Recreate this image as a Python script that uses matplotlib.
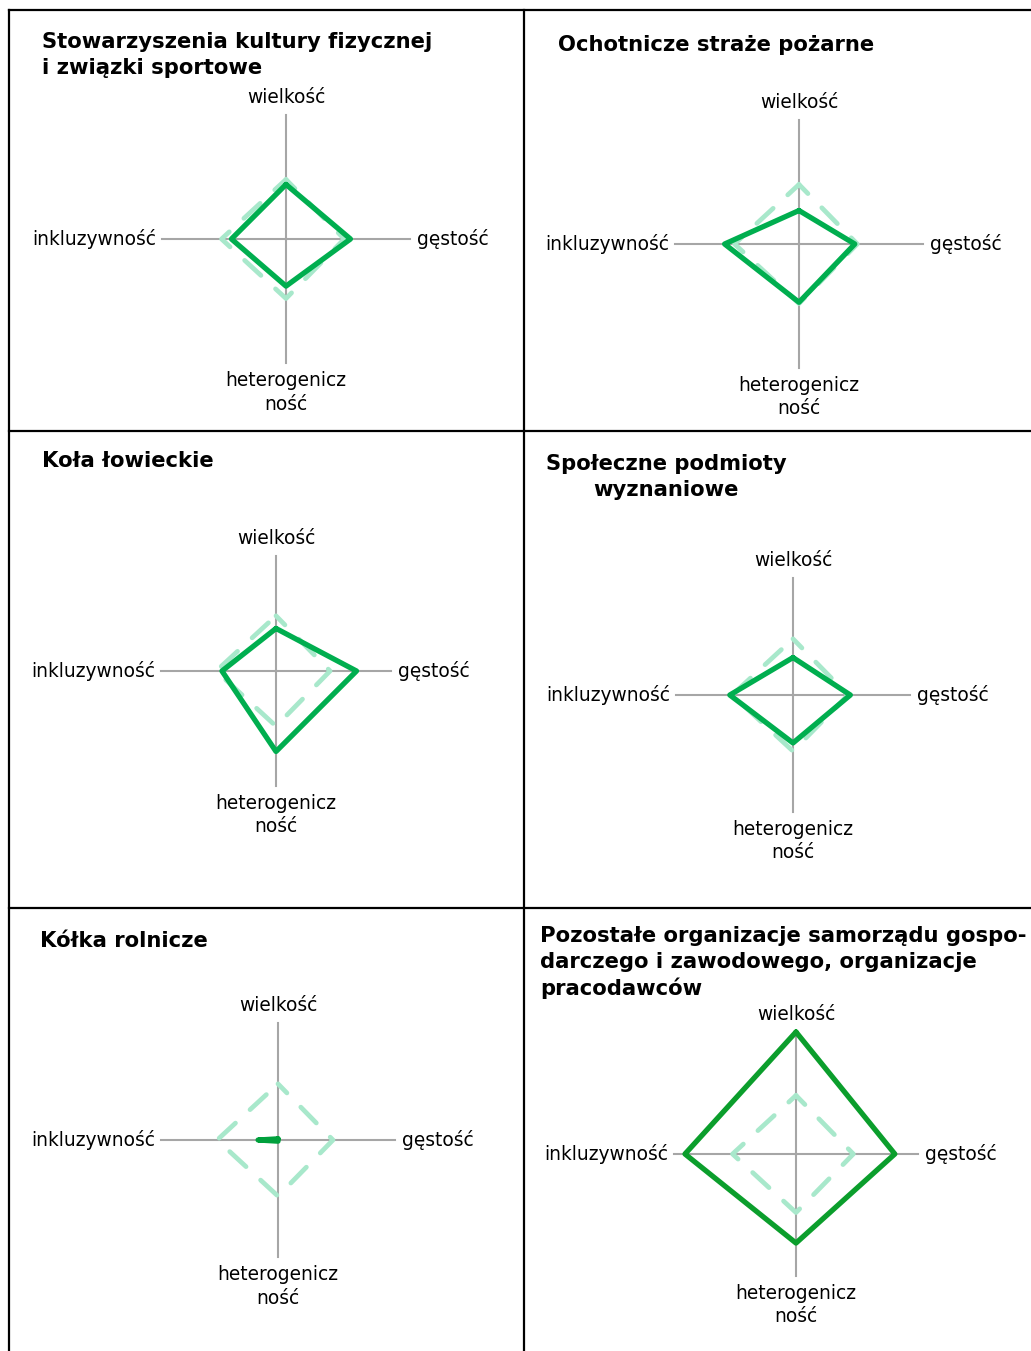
import numpy as np
import matplotlib
matplotlib.use("Agg")
import matplotlib.pyplot as plt
from matplotlib.lines import Line2D

plt.rcParams['font.family'] = ['DejaVu Sans']

# ---- data ----
axis_labels = ["wielkość", "gęstość", "heterogenicz\nność", "inkluzywność"]

titles = [
    "Stowarzyszenia kultury fizycznej\ni związki sportowe",
    "Ochotnicze straże pożarne",
    "Koła łowieckie",
    "Społeczne podmioty\nwyznaniowe",
    "Kółka rolnicze",
    "Pozostałe organizacje samorządu gospo-\ndarczego i zawodowego, organizacje\npracodawców",
]

# order: wielkość, gęstość, heterogeniczność, inkluzywność (0..1 of axis length)
reference = [0.48, 0.47, 0.48, 0.52]
sport = [0.44, 0.52, 0.38, 0.44]
straze = [0.27, 0.45, 0.47, 0.60]
lowieckie = [0.37, 0.70, 0.70, 0.47]
wyznaniowe = [0.32, 0.49, 0.41, 0.54]
rolnicze = [0.01, 0.0, 0.01, 0.17]
pracodawcy = [1.0, 0.81, 0.73, 0.91]

series = [sport, straze, lowieckie, wyznaniowe, rolnicze, pracodawcy]

# ---- layout (pixels) ----
W, H = 1031, 1351
fig = plt.figure(figsize=(W / 100, H / 100), dpi=100)

centers = [(286, 239, 124), (799, 244, 124), (276, 671, 115),
           (793, 695, 117), (278, 1140, 117), (796, 1154, 122)]
title_pos = [(42, 32, 'left'), (558, 35, 'left'), (42, 451, 'left'),
             (546, 454, 'center'), (40, 931, 'left'), (540, 926, 'left')]
solid_colors = ["#00AE4F", "#00AE4F", "#00AE4F", "#00AE4F", "#00A03C", "#0B9E2C"]

angles = np.array([0, np.pi / 2, np.pi, 3 * np.pi / 2])

for i, (cx, cy, R) in enumerate(centers):
    ax = fig.add_axes([(cx - R) / W, (H - cy - R) / H, 2 * R / W, 2 * R / H],
                      projection='polar')
    ax.set_theta_offset(np.pi / 2)
    ax.set_theta_direction(-1)
    ax.set_ylim(0, 1)
    ax.axis('off')
    for a in angles:
        ax.plot([a, a], [0, 1], color="#A6A6A6", lw=1.5, clip_on=False, zorder=1)
    th = np.append(angles, angles[0])
    ref = np.append(reference, reference[0])
    ax.plot(th, ref, color="#A8E8CB", lw=3.4, ls=(2.0, (4.7, 4.2)),
            dash_capstyle='round', clip_on=False, zorder=2)
    vals = np.append(series[i], series[i][0])
    ax.plot(th, vals, color=solid_colors[i], lw=3.8, solid_joinstyle='round',
            solid_capstyle='round', clip_on=False, zorder=3)
    # axis labels
    fs = 13.4
    ax.annotate(axis_labels[0], xy=(angles[0], 1), xytext=(0, 8), textcoords='offset pixels',
                ha='center', va='bottom', fontsize=fs, annotation_clip=False)
    ax.annotate(axis_labels[1], xy=(angles[1], 1), xytext=(7, 0), textcoords='offset pixels',
                ha='left', va='center', fontsize=fs, annotation_clip=False)
    ax.annotate(axis_labels[2], xy=(angles[2], 1), xytext=(0, -8), textcoords='offset pixels',
                ha='center', va='top', fontsize=fs, linespacing=1.3, annotation_clip=False)
    ax.annotate(axis_labels[3], xy=(angles[3], 1), xytext=(-6, 0), textcoords='offset pixels',
                ha='right', va='center', fontsize=fs, annotation_clip=False)

    tx, ty, ma = title_pos[i]
    fig.text(tx / W, 1 - ty / H, titles[i], ha='left', va='top', multialignment=ma,
             fontsize=15.2, fontweight='bold', linespacing=1.35)

# ---- panel borders ----
def hline(y, x0, x1):
    fig.add_artist(Line2D([x0 / W, x1 / W], [1 - y / H, 1 - y / H], color='black',
                          lw=1.6, transform=fig.transFigure))

def vline(x, y0, y1):
    fig.add_artist(Line2D([x / W, x / W], [1 - y0 / H, 1 - y1 / H], color='black',
                          lw=1.6, transform=fig.transFigure))

for y in (10, 431, 908):
    hline(y, 9, W)
for x in (9, 524):
    vline(x, 10, H)

fig.savefig("out.png", dpi=100, facecolor='white')
